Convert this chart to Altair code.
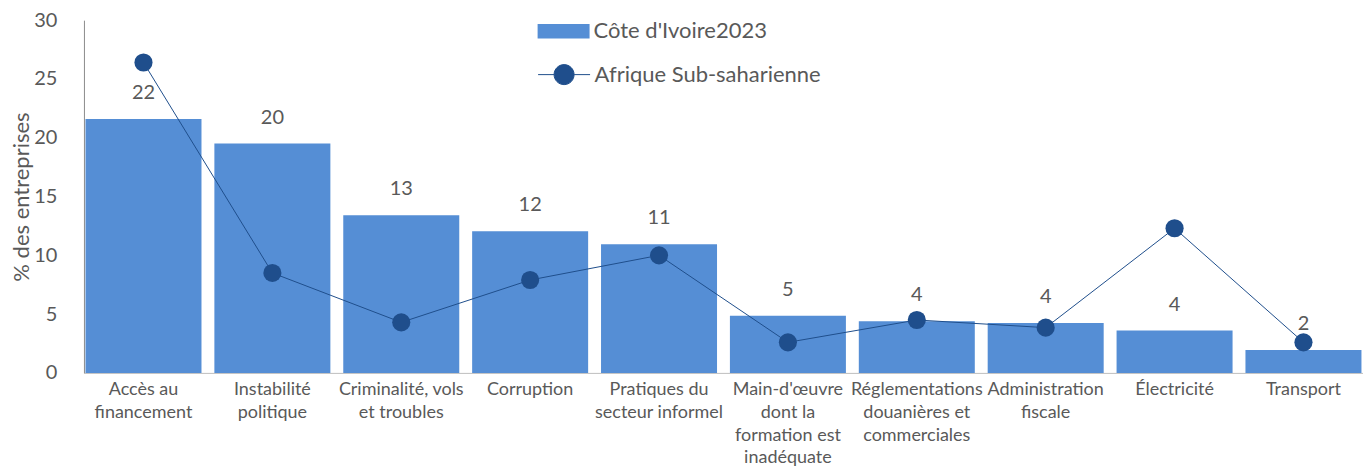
import altair as alt
import pandas as pd

categories = [
    "Accès au|financement",
    "Instabilité|politique",
    "Criminalité, vols|et troubles",
    "Corruption",
    "Pratiques du|secteur informel",
    "Main-d'œuvre|dont la|formation est|inadéquate",
    "Réglementations|douanières et|commerciales",
    "Administration|fiscale",
    "Électricité",
    "Transport",
]
civ_2023 = [21.6, 19.5, 13.4, 12.05, 10.95, 4.85, 4.4, 4.25, 3.6, 1.95]
ssa = [26.4, 8.5, 4.3, 7.9, 10.0, 2.6, 4.5, 3.85, 12.3, 2.6]

s_bar = "Côte d'Ivoire2023"
s_line = "Afrique Sub-saharienne"

df = pd.DataFrame({"cat": categories, "civ": civ_2023, "ssa": ssa,
                   "s1": [s_bar] * len(categories), "s2": [s_line] * len(categories)})

FONT = "Lato"
GRAY = "#595959"
BAR = "#558ED5"
NAVY = "#1F4E8C"

x = alt.X("cat:N", sort=categories, title=None,
          scale=alt.Scale(paddingInner=0.1, paddingOuter=0.012),
          axis=alt.Axis(labelAngle=0, labelExpr="split(datum.label, '|')",
                        labelFontSize=18, labelLineHeight=22.7, labelColor=GRAY,
                        labelFont=FONT, ticks=False, domainColor="#BFBFBF",
                        labelPadding=8, labelBaseline="top", labelLimit=200))

base = alt.Chart(df)

bars = base.mark_bar(color=BAR).encode(
    x=x,
    y=alt.Y("civ:Q", title="% des entreprises",
            scale=alt.Scale(domain=[0, 30], nice=False),
            axis=alt.Axis(values=[0, 5, 10, 15, 20, 25, 30], grid=False, ticks=False,
                          labelFontSize=20, labelColor=GRAY, labelFont=FONT,
                          labelPadding=27, titleFontSize=22, titleColor=GRAY,
                          titleFont=FONT, titleFontWeight="normal", titlePadding=0,
                          domainColor="#8C8C8C")),
    fill=alt.Fill("s1:N", scale=alt.Scale(domain=[s_bar], range=[BAR]),
                  legend=alt.Legend(title=None, orient="none", legendX=454, legendY=-15,
                                    symbolType="M-1,-0.28L1,-0.28L1,0.28L-1,0.28Z",
                                    symbolSize=2704, labelFontSize=22, labelColor=GRAY,
                                    labelFont=FONT, symbolStrokeWidth=0, labelLimit=400,
                                    labelOffset=4)),
)

labels = base.mark_text(fontSize=20, color=GRAY, font=FONT, baseline="middle", dy=-26).encode(
    x=alt.X("cat:N", sort=categories),
    y=alt.Y("civ:Q"),
    text=alt.Text("civ:Q", format=".0f"),
)

line = base.mark_line(color=NAVY, strokeWidth=1).encode(
    x=alt.X("cat:N", sort=categories),
    y=alt.Y("ssa:Q"),
)

points = base.mark_point(filled=True, size=330, opacity=1).encode(
    x=alt.X("cat:N", sort=categories),
    y=alt.Y("ssa:Q"),
    color=alt.Color("s2:N", scale=alt.Scale(domain=[s_line], range=[NAVY]),
                    legend=alt.Legend(title=None, orient="none", legendX=454, legendY=28,
                                      symbolType="M-1,0L-0.385,0A0.385,0.385 0 1,1 0.385,0L1,0M0.385,0A0.385,0.385 0 1,1 -0.385,0",
                                      symbolSize=2704, symbolStrokeWidth=1,
                                      symbolFillColor=NAVY, symbolStrokeColor=NAVY,
                                      labelFontSize=22, labelColor=GRAY, labelFont=FONT,
                                      labelLimit=400, labelOffset=4)),
)

chart = alt.layer(bars, labels, line, points).resolve_scale(
    fill="independent", color="independent"
).properties(
    width=1280, height=353,
    autosize=alt.AutoSizeParams(type="none"),
    padding={"left": 76, "top": 12, "right": 0, "bottom": 93},
).configure(font=FONT).configure_view(stroke=None)

chart.save("out.html", embed_options={"renderer": "svg", "actions": False})
